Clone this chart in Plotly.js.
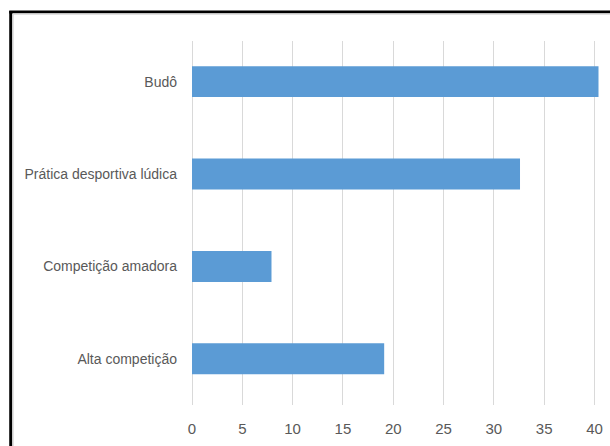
<!DOCTYPE html>
<html>
<head>
<meta charset="utf-8">
<script src="https://cdn.plot.ly/plotly-3.0.1.min.js"></script>
<style>
html,body{margin:0;padding:0;background:#fff;}
#chart{width:610px;height:446px;}
</style>
</head>
<body>
<div id="chart"></div>
<script>
// Data (bottom to top order, as Plotly draws categorical y)
const categories = ["Alta competição", "Competição amadora", "Prática desportiva lúdica", "Budô"];
const values = [19.1, 7.9, 32.6, 40.4];
const xTicks = [0, 5, 10, 15, 20, 25, 30, 35, 40];

const W = 610, H = 446;
const L = 191.5, R = 11, T = 41, B = 41;
const pw = W - L - R, ph = H - T - B;
const px = x => (x - L) / pw;
const py = y => (H - B - y) / ph;

const trace = {
  type: "bar",
  orientation: "h",
  x: values,
  y: categories,
  marker: {color: "#5B9BD5", line: {width: 0}},
  hoverinfo: "skip"
};

const layout = {
  width: W, height: H,
  margin: {l: L, r: R, t: T, b: B, pad: 0},
  paper_bgcolor: "#ffffff",
  plot_bgcolor: "#ffffff",
  showlegend: false,
  bargap: 0.665,
  font: {family: "Liberation Sans, sans-serif", color: "#595959", size: 14},
  xaxis: {
    range: [0, 40.45],
    tickvals: xTicks,
    ticktext: xTicks.map(String),
    showgrid: true,
    gridcolor: "#D9D9D9",
    gridwidth: 1,
    zeroline: true,
    zerolinecolor: "#D9D9D9",
    zerolinewidth: 1,
    showline: false,
    ticks: "",
    ticklabelstandoff: 13,
    tickfont: {size: 15}
  },
  yaxis: {
    type: "category",
    range: [-0.5, 3.44],
    showgrid: false,
    zeroline: false,
    showline: false,
    ticks: "",
    ticklabelstandoff: 14,
    tickfont: {size: 14}
  },
  shapes: [
    {type: "line", xref: "paper", yref: "paper", x0: px(10), x1: px(10), y0: py(H + 5), y1: py(11), line: {color: "#000", width: 3}},
    {type: "line", xref: "paper", yref: "paper", x0: px(8.5), x1: px(W + 5), y0: py(12), y1: py(12), line: {color: "#000", width: 3}},
    {type: "line", xref: "paper", yref: "paper", x0: px(12.5), x1: px(12.5), y0: py(H + 5), y1: py(14), line: {color: "#D9D9D9", width: 1}},
    {type: "line", xref: "paper", yref: "paper", x0: px(12), x1: px(W + 5), y0: py(14), y1: py(14), line: {color: "#D9D9D9", width: 1.5}}
  ]
};

Plotly.newPlot("chart", [trace], layout, {displayModeBar: false, staticPlot: true});
</script>
</body>
</html>
